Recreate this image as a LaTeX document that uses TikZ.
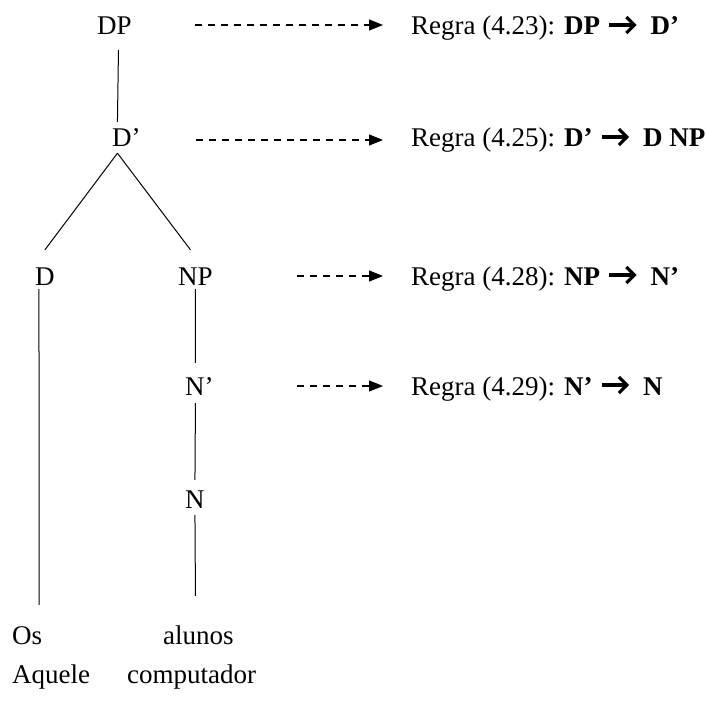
\documentclass[tikz,border=0pt]{standalone}
\usepackage{fontspec}
\setmainfont{Liberation Serif}
\usetikzlibrary{arrows.meta,calc}
\newcommand\rulesym[2]{%
  \draw[thickarr] ($(#1.east)+(9,-1)$) -- ($(#2.west)+(-16,-1)$);
  \draw[thickarr] ($(#2.west)+(-24,-9)$) -- ($(#2.west)+(-16,-1)$) -- ($(#2.west)+(-24,7)$);}
\begin{document}
\begin{tikzpicture}[x=1pt,y=-1pt, font=\fontsize{27}{32}\selectfont,
  lbl/.style={inner sep=0pt, anchor=base west, text height=18pt, text depth=0pt},
  edge/.style={line width=1pt},
  thickarr/.style={line width=3.2pt, line join=miter},
  rulearrow/.style={line width=1.1pt, dash pattern=on 7pt off 6pt, -{Triangle[length=14pt,width=11pt]}}]
\useasboundingbox (0,0) rectangle (705,711);
\node[lbl] (DP) at (97,35) {DP};
\node[lbl] (Dbar) at (112,147) {D’};
\node[lbl] (D) at (35,285) {D};
\node[lbl] (NP) at (178,285) {NP};
\node[lbl] (Nbar) at (185,395) {N’};
\node[lbl] (N) at (185,508) {N};
\node[lbl] (os) at (12,644) {Os};
\node[lbl] (alunos) at (163,644) {alunos};
\node[lbl] (aquele) at (12,683) {Aquele};
\node[lbl] (comp) at (127,683) {computador};
% tree edges
\draw[edge] ($(DP.south)+(4,15)$) -- ($(Dbar.north)+(-9,-7)$);
\draw[edge] ($(Dbar.south)+(-9,6)$) -- ($(D.north)+(0,-17)$);
\draw[edge] ($(Dbar.south)+(-9,6)$) -- ($(NP.north)+(-5,-17)$);
\draw[edge] ($(D.south)+(-6,4)$) -- ($(os.north)+(12,-21)$);
\draw[edge] ($(NP.south)+(0,4)$) -- ($(Nbar.north)+(-4,-14)$);
\draw[edge] ($(Nbar.south)+(-4,8)$) -- ($(N.north)+(0,-10)$);
\draw[edge] ($(N.south)+(0,7)$) -- ($(alunos.north)+(-3,-30)$);
% rules
\node[lbl] (r1a) at (411,35) {Regra (4.23): \textbf{DP}};
\node[lbl] (r1b) at ($(r1a.base east)+(50,0)$) {\textbf{D’}};
\node[lbl] (r2a) at (411,147) {Regra (4.25): \textbf{D’}};
\node[lbl] (r2b) at ($(r2a.base east)+(50,0)$) {\textbf{D NP}};
\node[lbl] (r3a) at (411,285) {Regra (4.28): \textbf{NP}};
\node[lbl] (r3b) at ($(r3a.base east)+(50,0)$) {\textbf{N’}};
\node[lbl] (r4a) at (411,395) {Regra (4.29): \textbf{N’}};
\node[lbl] (r4b) at ($(r4a.base east)+(50,0)$) {\textbf{N}};
\rulesym{r1a}{r1b}
\rulesym{r2a}{r2b}
\rulesym{r3a}{r3b}
\rulesym{r4a}{r4b}
\draw[rulearrow] ($(DP.east)+(63.5,-1)$) -- ($(r1a.west)+(-28,-1)$);
\draw[rulearrow] ($(Dbar.east)+(55.5,2)$) -- ($(r2a.west)+(-28,2)$);
\draw[rulearrow] ($(NP.east)+(84.5,0)$) -- ($(r3a.west)+(-28,0)$);
\draw[rulearrow] ($(Nbar.east)+(83.5,0)$) -- ($(r4a.west)+(-28,0)$);
\end{tikzpicture}
\end{document}
